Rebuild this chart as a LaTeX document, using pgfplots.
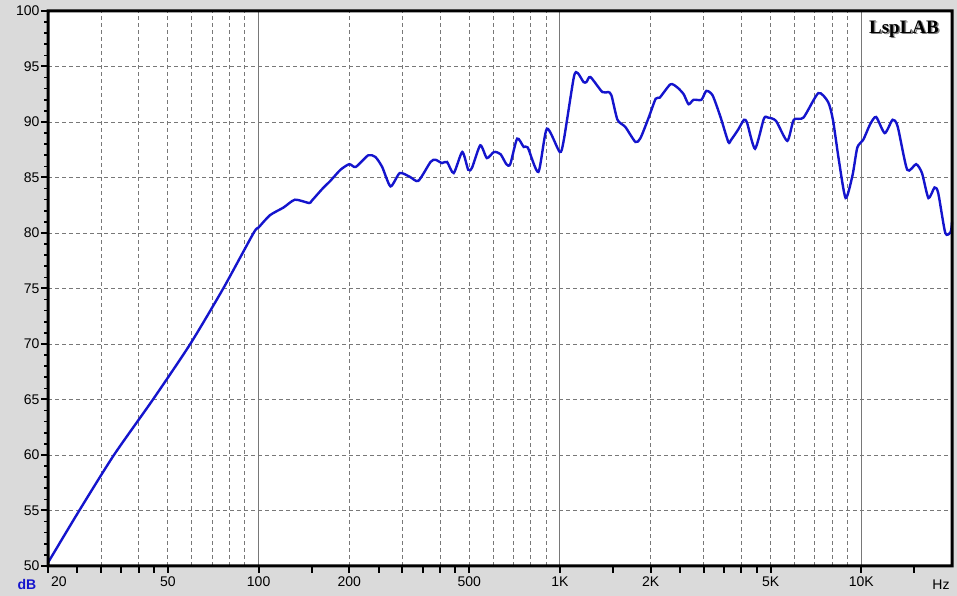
\documentclass[border=0pt]{standalone}
\usepackage{pgfplots}
\pgfplotsset{compat=1.18}
\usepackage{fontspec}
\setmainfont{Liberation Sans}
\newfontfamily\serifb{Liberation Serif}
\definecolor{bg}{RGB}{218,218,218}
\definecolor{gridc}{RGB}{120,120,120}
\definecolor{curve}{RGB}{20,20,205}
\pgfplotstableread{
f db
20 50.3
25.4 55
33.1 60
44.6 65
59.3 70
76.3 75
96.2 80
100 80.5
109 81.6
121 82.3
132 83.0
147 82.7
150 82.9
163 84.0
173 84.7
187 85.7
200 86.2
210 85.95
231 87.0
244 86.85
257 85.95
274 84.2
294 85.4
318 85.05
339 84.7
372 86.4
386 86.6
406 86.3
422 86.4
444 85.4
474 87.3
496 85.7
511 85.9
544 87.9
572 86.75
604 87.3
635 87.1
664 86.2
684 86.2
721 88.5
758 87.75
782 87.7
848 85.5
905 89.4
998 87.3
1030 88.4
1112 94.05
1146 94.4
1197 93.6
1224 93.6
1262 94.05
1382 92.7
1445 92.7
1482 92.4
1552 90.2
1648 89.55
1780 88.2
1850 88.55
1970 90.4
2078 92.1
2144 92.2
2327 93.4
2455 93.1
2573 92.5
2672 91.6
2775 92.0
2947 92.0
3060 92.8
3210 92.4
3410 90.45
3620 88.2
3700 88.4
3900 89.3
4080 90.2
4180 89.9
4440 87.6
4750 90.3
4900 90.4
5210 90.1
5680 88.3
5970 90.2
6430 90.4
7200 92.6
7760 91.8
8050 90.2
8420 86.6
8870 83.15
9350 85.2
9700 87.7
10150 88.4
10700 89.8
11200 90.45
11960 89.0
12700 90.2
13200 89.6
14200 85.7
15200 86.2
15900 85.4
16700 83.15
17500 84.1
18000 83.6
19000 80.0
19800 80.1
20000 81.0
}\resp
\begin{document}
\begin{tikzpicture}
\useasboundingbox (0,0) rectangle (957pt,596pt);
\fill[bg] (0,0) rectangle (957pt,596pt);
\begin{axis}[
  at={(48pt,30pt)}, anchor=south west,
  scale only axis, width=904pt, height=555pt,
  xmode=log, xmin=20, xmax=20000, ymin=50, ymax=100,
  axis background/.style={fill=white},
  axis line style={draw=none},
  xtick pos=left, ytick pos=left,
  major tick length=0pt, minor tick length=0pt,
  xtick={20,50,100,200,500,1000,2000,5000,10000},
  xticklabels={\makebox[0pt][l]{\hspace{3pt}20},50,100,200,500,1K,2K,5K,10K},
  ytick={50,55,...,100},
  ymajorgrids,
  major grid style={gridc, line width=0.9pt, dash pattern=on 4pt off 3pt},
  ticklabel style={font=\fontsize{14}{16}\selectfont},
  /pgf/number format/assume math mode=true,
  xticklabel style={yshift=-7pt},
  yticklabel style={xshift=-5pt},
  clip=false,
]
\pgfplotsinvokeforeach{30,40,50,60,70,80,90,200,300,400,500,600,700,800,900,2000,3000,4000,5000,6000,7000,8000,9000}{
  \draw[gridc, line width=0.9pt, dash pattern=on 4pt off 3pt] (axis cs:#1,50) -- (axis cs:#1,100);
}
\pgfplotsinvokeforeach{100,1000,10000}{
  \draw[gridc, line width=1pt] (axis cs:#1,50) -- (axis cs:#1,100);
}
\pgfplotsinvokeforeach{20,25,30,35,40,45,50,100,150,200,250,300,350,400,450,500,1000,1500,2000,2500,3000,3500,4000,4500,5000,10000,15000}{
  \draw[black, line width=2pt] (axis cs:#1,50) -- ++(0pt,-7pt);
}
\pgfplotsinvokeforeach{50,55,60,65,70,75,80,85,90,95,100}{
  \draw[black, line width=2pt] (axis cs:20,#1) -- ++(-7pt,0pt);
}
\pgfplotsinvokeforeach{51,52,53,54,56,57,58,59,61,62,63,64,66,67,68,69,71,72,73,74,76,77,78,79,81,82,83,84,86,87,88,89,91,92,93,94,96,97,98,99}{
  \draw[black, line width=1.6pt] (axis cs:20,#1) -- ++(-4.5pt,0pt);
}
\addplot[curve, line width=2.4pt, smooth, tension=0.4] table[x=f,y=db] {\resp};
\end{axis}
\fill[black, even odd rule] (46.5pt,28.5pt) rectangle (953.5pt,586.5pt) (49.5pt,31.5pt) rectangle (950.5pt,583.5pt);
\node[font=\bfseries\fontsize{14}{16}\selectfont, text=curve, anchor=base] at (27pt,6pt) {dB};
\node[font=\fontsize{14}{16}\selectfont, anchor=base] at (941pt,6pt) {Hz};
\node[font=\serifb\bfseries\fontsize{19}{22}\selectfont, text=gray, anchor=center] at (905.5pt,565.5pt) {LspLAB};
\node[font=\serifb\bfseries\fontsize{19}{22}\selectfont, text=black, anchor=center] at (904pt,567pt) {LspLAB};
\end{tikzpicture}
\end{document}
